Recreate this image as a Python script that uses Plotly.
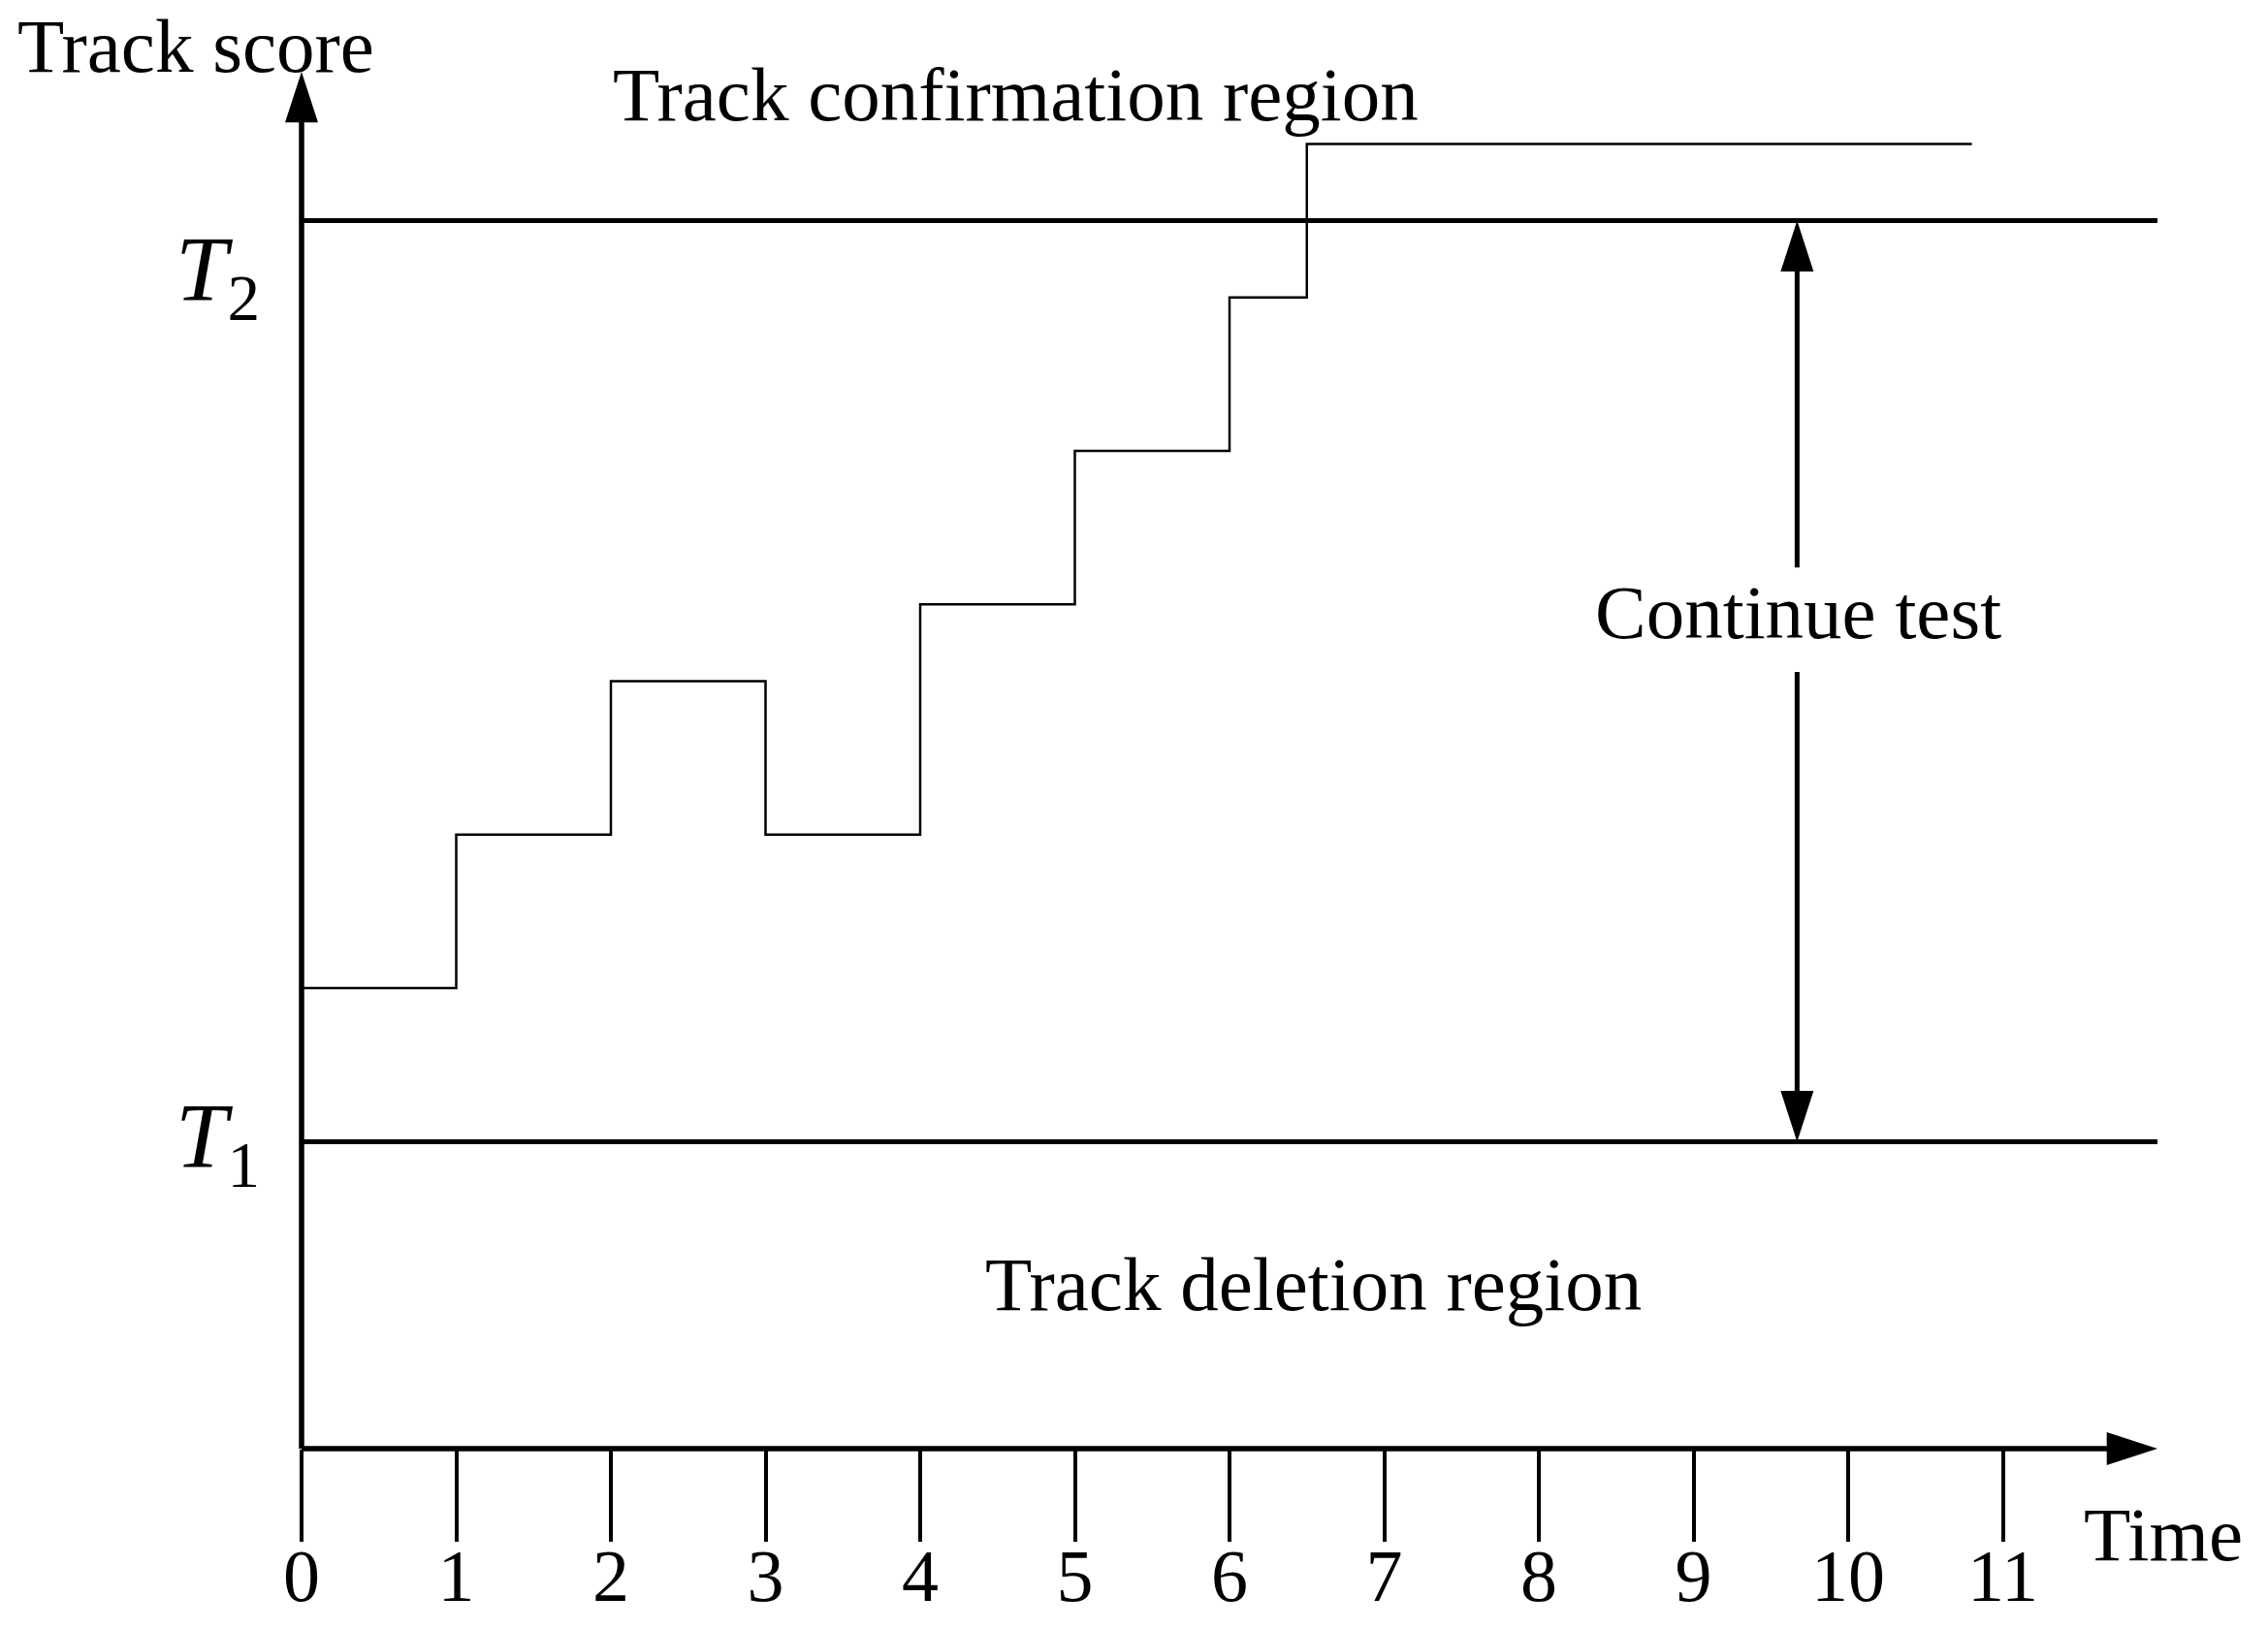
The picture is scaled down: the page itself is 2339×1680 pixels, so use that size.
import plotly.graph_objects as go

# ---- data ----
time_steps = [0, 1, 2, 3, 4, 5, 6, 6.5, 10.8]
track_score = [3, 4, 5, 4, 5.5, 6.5, 7.5, 8.5, 8.5]
T1 = 2
T2 = 8
tick_vals = list(range(12))
tick_labels = [str(v) for v in tick_vals]

# axis extents (data units)
X_END = 12.0
Y_END = 8.97
TEST_X = 9.67
GAP_TOP = 5.74
GAP_BOT = 5.06

FONT = "Liberation Serif, Times New Roman, serif"
BLACK = "#000000"

# pixel mapping of the figure
W, H = 2339, 1680
OX, OY, SX, SY = 303, 1486, 159.5, 158.3
x_range = [-OX / SX, (W - OX) / SX]
y_range = [(OY - H) / SY, OY / SY]

fig = go.Figure()

# y axis line
fig.add_trace(go.Scatter(x=[0, 0], y=[0, Y_END - 0.2], mode="lines",
                         line=dict(color=BLACK, width=5.5), hoverinfo="skip"))
# x axis line
fig.add_trace(go.Scatter(x=[0, X_END - 0.2], y=[0, 0], mode="lines",
                         line=dict(color=BLACK, width=5.5), hoverinfo="skip"))
# thresholds
for t in (T1, T2):
    fig.add_trace(go.Scatter(x=[0, X_END], y=[t, t], mode="lines",
                             line=dict(color=BLACK, width=5), hoverinfo="skip"))
# track score step line
fig.add_trace(go.Scatter(x=time_steps, y=track_score, mode="lines",
                         line=dict(color=BLACK, width=2.5, shape="hv"), hoverinfo="skip"))
# continue test double arrow shafts
fig.add_trace(go.Scatter(x=[TEST_X, TEST_X], y=[T2 - 0.2, GAP_TOP], mode="lines",
                         line=dict(color=BLACK, width=5), hoverinfo="skip"))
fig.add_trace(go.Scatter(x=[TEST_X, TEST_X], y=[GAP_BOT, T1 + 0.2], mode="lines",
                         line=dict(color=BLACK, width=5), hoverinfo="skip"))
# arrow heads
fig.add_trace(go.Scatter(
    x=[0, X_END, TEST_X, TEST_X], y=[Y_END, 0, T2, T1], mode="markers",
    marker=dict(symbol="arrow", angle=[0, 90, 0, 180], size=55, opacity=1,
                color=BLACK, line=dict(width=0, color=BLACK)),
    hoverinfo="skip"))

def label(text, x, y, size=79, xanchor="center"):
    fig.add_annotation(x=x, y=y, text=text, showarrow=False, xanchor=xanchor,
                       yanchor="middle", font=dict(family=FONT, size=size, color=BLACK))

label("Track score", -1.85, 9.14, xanchor="left")
label("Track confirmation region", 4.62, 8.82)
label("Track deletion region", 6.54, 1.07)
label("Continue test", 9.68, 5.45)
label("Time", 12.04, -0.56)
label("<i>T</i><sub>2</sub>", -0.26, 7.64, size=96, xanchor="right")
label("<i>T</i><sub>1</sub>", -0.26, 1.99, size=96, xanchor="right")

fig.update_layout(
    width=W, height=H, autosize=False,
    margin=dict(l=0, r=0, t=0, b=0),
    paper_bgcolor="white", plot_bgcolor="white",
    showlegend=False,
    xaxis=dict(range=x_range, showgrid=False, zeroline=False, showline=False,
               anchor="free", position=(0 - y_range[0]) / (y_range[1] - y_range[0]),
               ticks="outside", ticklen=95, tickwidth=4, tickcolor=BLACK,
               ticklabelstandoff=-30,
               tickvals=tick_vals, ticktext=tick_labels,
               tickfont=dict(family=FONT, size=76, color=BLACK)),
    yaxis=dict(range=y_range, visible=False),
)

fig.write_html("out.html")
